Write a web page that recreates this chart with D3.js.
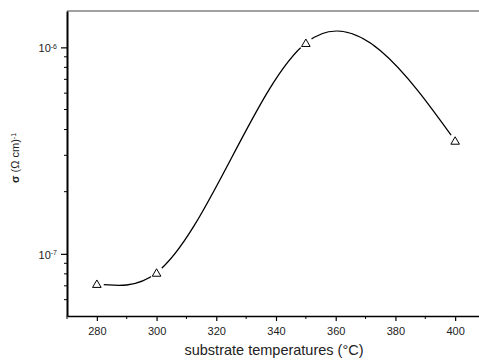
<!DOCTYPE html>
<html>
<head>
<meta charset="utf-8">
<script src="https://cdn.jsdelivr.net/npm/d3@7"></script>
<style>
  body { margin: 0; background: #fff; }
  svg { display: block; font-family: Arial, "Liberation Sans", sans-serif; }
</style>
</head>
<body>
<div id="chart"></div>
<script>
const temps = [280, 300, 350, 400];
const sigma = [7.15e-8, 8.1e-8, 1.05e-6, 3.53e-7];
const xMajor = [280, 300, 320, 340, 360, 380, 400];
const xMinor = [270, 290, 310, 330, 350, 370, 390, 410];
const yMajor = [1e-7, 1e-6];
const yMinor = [6e-8, 7e-8, 8e-8, 9e-8, 2e-7, 3e-7, 4e-7, 5e-7, 6e-7, 7e-7, 8e-7, 9e-7];

const W = 479, H = 360;
const m = { left: 67, top: 11, bottom: 316, right: 485 };

// natural cubic spline y(x), written out as bezier segments
function splineX(context) {
  let px = [], py = [];
  return {
    areaStart() {}, areaEnd() {},
    lineStart() { px = []; py = []; },
    point(a, b) { px.push(+a); py.push(+b); },
    lineEnd() {
      const n = px.length;
      if (!n) return;
      context.moveTo(px[0], py[0]);
      if (n < 3) { if (n === 2) context.lineTo(px[1], py[1]); return; }
      const h = [], s = [];
      for (let i = 0; i < n - 1; i++) { h[i] = px[i + 1] - px[i]; s[i] = (py[i + 1] - py[i]) / h[i]; }
      // solve tridiagonal for second derivatives, natural ends
      const M = new Array(n).fill(0), a = [], b = [], c = [], r = [];
      for (let i = 1; i < n - 1; i++) {
        a[i] = h[i - 1]; b[i] = 2 * (h[i - 1] + h[i]); c[i] = h[i]; r[i] = 6 * (s[i] - s[i - 1]);
      }
      for (let i = 2; i < n - 1; i++) {
        const w = a[i] / b[i - 1];
        b[i] -= w * c[i - 1]; r[i] -= w * r[i - 1];
      }
      for (let i = n - 2; i >= 1; i--) M[i] = (r[i] - (i < n - 2 ? c[i] * M[i + 1] : 0)) / b[i];
      for (let i = 0; i < n - 1; i++) {
        const d0 = s[i] - h[i] * (2 * M[i] + M[i + 1]) / 6;
        const d1 = s[i] + h[i] * (M[i] + 2 * M[i + 1]) / 6;
        context.bezierCurveTo(
          px[i] + h[i] / 3, py[i] + d0 * h[i] / 3,
          px[i + 1] - h[i] / 3, py[i + 1] - d1 * h[i] / 3,
          px[i + 1], py[i + 1]);
      }
    }
  };
}

const svg = d3.select('#chart').append('svg')
  .attr('width', W).attr('height', H);

const x = d3.scaleLinear().domain([270, 410]).range([m.left, m.right]);
const y = d3.scaleLog().domain([5e-8, 1.5e-6]).range([m.bottom, m.top]);

// frame (top)
svg.append('line')
  .attr('x1', m.left).attr('x2', m.right).attr('y1', m.top).attr('y2', m.top)
  .attr('stroke', '#444').attr('stroke-width', 1);

// x axis
const xAxisG = svg.append('g').attr('transform', `translate(0,${m.bottom})`);
xAxisG.call(d3.axisBottom(x).tickValues(xMajor).tickSize(5).tickSizeOuter(0).tickPadding(6));
xAxisG.append('g').selectAll('line').data(xMinor).join('line')
  .attr('x1', d => x(d)).attr('x2', d => x(d)).attr('y1', 0).attr('y2', 3)
  .attr('stroke', '#000');
xAxisG.select('.domain').attr('stroke-width', 1.5);
xAxisG.selectAll('.tick line').attr('stroke-width', 1.2);
xAxisG.selectAll('.tick text').style('font-size', '11px').attr('fill', '#222')
  .style('font-family', 'Arial, "Liberation Sans", sans-serif');

// y axis
const yAxisG = svg.append('g').attr('transform', `translate(${m.left},0)`);
yAxisG.call(d3.axisLeft(y).tickValues(yMajor).tickSize(6).tickSizeOuter(0).tickFormat(() => ''));
yAxisG.append('g').selectAll('line').data(yMinor).join('line')
  .attr('y1', d => y(d)).attr('y2', d => y(d)).attr('x1', 0).attr('x2', -3)
  .attr('stroke', '#000');
yAxisG.select('.domain').attr('stroke-width', 2);
yAxisG.selectAll('.tick line').attr('stroke-width', 1.2);
yAxisG.selectAll('.tick').each(function (d) {
  const t = d3.select(this).append('text')
    .attr('x', -10).attr('dy', '0.4em')
    .attr('text-anchor', 'end')
    .attr('fill', '#222')
    .style('font-size', '11px')
    .style('font-family', 'Arial, "Liberation Sans", sans-serif');
  t.append('tspan').text('10');
  t.append('tspan').attr('dy', '-0.5em').style('font-size', '7px').text(String(Math.round(Math.log10(d))));
});

// curve
const pts = temps.map((t, i) => [x(t), y(sigma[i])]);
svg.append('path')
  .attr('d', d3.line().curve(splineX)(pts))
  .attr('fill', 'none').attr('stroke', '#000').attr('stroke-width', 1.3);

// markers: white gap then open triangle
const tri = d3.symbol().type(d3.symbolTriangle).size(32);
const mk = svg.append('g').selectAll('g').data(pts).join('g')
  .attr('transform', d => `translate(${d[0]},${d[1]})`);
mk.append('circle').attr('r', 7).attr('fill', '#fff');
mk.append('path').attr('d', tri).attr('transform', 'translate(0,1)')
  .attr('fill', '#fff').attr('stroke', '#000').attr('stroke-width', 1);

// axis titles
svg.append('text')
  .attr('x', 274).attr('y', 355)
  .attr('text-anchor', 'middle')
  .attr('fill', '#222')
  .style('font-size', '14.5px')
  .text('substrate temperatures (°C)');

const yl = svg.append('text')
  .attr('transform', 'translate(19,158) rotate(-90)')
  .attr('text-anchor', 'middle')
  .attr('fill', '#222')
  .style('font-size', '11px');
yl.append('tspan').style('font-weight', 'bold').text('σ');
yl.append('tspan').text(' (Ω cm)');
yl.append('tspan').attr('dy', '-0.5em').style('font-size', '7px').text('-1');
</script>
</body>
</html>
